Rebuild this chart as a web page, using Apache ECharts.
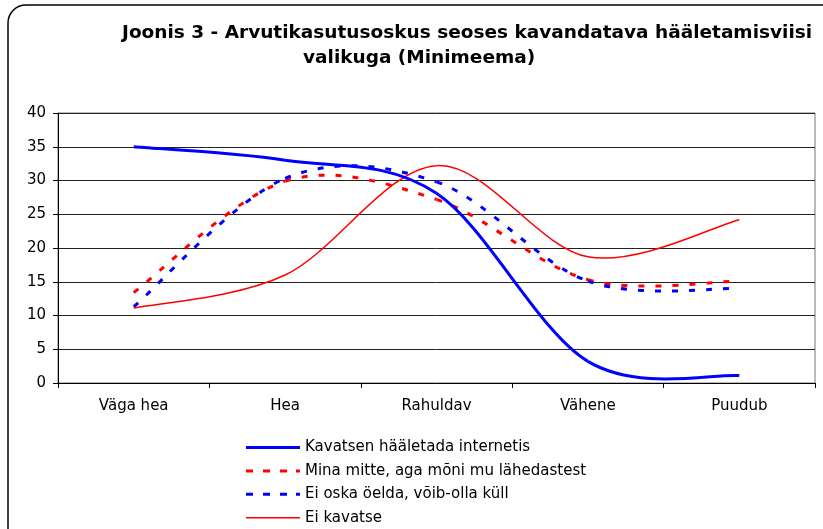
<!DOCTYPE html>
<html>
<head>
<meta charset="utf-8">
<script src="https://cdn.jsdelivr.net/npm/echarts@6/dist/echarts.min.js"></script>
<style>
  html, body { margin: 0; padding: 0; background: #fff; }
  #chart { width: 823px; height: 529px; }
</style>
</head>
<body>
<div id="chart"></div>
<script>
// kategooriad ja andmed (loetud pildilt)
var categories = ["Väga hea", "Hea", "Rahuldav", "Vähene", "Puudub"];
var yTicks = [0, 5, 10, 15, 20, 25, 30, 35, 40];

var internetis = [35.0, 33.0, 28.1, 3.2, 1.1];
var lahedased = [13.4, 29.9, 27.2, 15.3, 15.1];
var eiOska = [11.3, 30.3, 29.8, 15.1, 14.0];
var eiKavatse = [11.1, 16.0, 32.2, 18.7, 24.2];

var names = [
    "Kavatsen hääletada internetis",
    "Mina mitte, aga mõni mu lähedastest",
    "Ei oska öelda, võib-olla küll",
    "Ei kavatse"
];

var font = "DejaVu Sans";
var myChart = echarts.init(document.getElementById("chart"));

// Exceli moodi silutud joon (Catmull-Rom), iga lõik eraldi bezierkõverana
function curveSeries(name, values, color, width, dash) {
    return {
        name: name,
        type: "custom",
        coordinateSystem: "cartesian2d",
        itemStyle: { color: color },
        encode: { x: 0, y: 1 },
        data: values.map(function (v, i) { return [i, v]; }),
        renderItem: function (params, api) {
            var i = params.dataIndex;
            var n = values.length;
            if (i >= n - 1) return null;
            var p0 = api.coord([Math.max(i - 1, 0), values[Math.max(i - 1, 0)]]);
            var p1 = api.coord([i, values[i]]);
            var p2 = api.coord([i + 1, values[i + 1]]);
            var p3 = api.coord([Math.min(i + 2, n - 1), values[Math.min(i + 2, n - 1)]]);
            return {
                type: "bezierCurve",
                shape: {
                    x1: p1[0], y1: p1[1],
                    x2: p2[0], y2: p2[1],
                    cpx1: p1[0] + (p2[0] - p0[0]) / 6,
                    cpy1: p1[1] + (p2[1] - p0[1]) / 6,
                    cpx2: p2[0] - (p3[0] - p1[0]) / 6,
                    cpy2: p2[1] - (p3[1] - p1[1]) / 6
                },
                style: { stroke: color, lineWidth: width, lineDash: dash, fill: null }
            };
        }
    };
}

var solidIcon = "path://M0,0h54v3h-54z";
var dashIcon = "path://M0,0h7v3h-7zM17,0h7v3h-7zM34,0h7v3h-7zM50,0h4v3h-4z";
var thinIcon = "path://M0,0h54v1.5h-54z";

var option = {
    backgroundColor: "#fff",
    animation: false,
    title: [
        {
            text: "Joonis 3 - Arvutikasutusoskus seoses kavandatava hääletamisviisi",
            left: 117, top: 19,
            textStyle: { fontFamily: font, fontWeight: "bold", fontSize: 18.5, color: "#000" }
        },
        {
            text: "valikuga (Minimeema)",
            left: 298, top: 44,
            textStyle: { fontFamily: font, fontWeight: "bold", fontSize: 18.5, color: "#000" }
        }
    ],
    graphic: [{
        type: "rect",
        shape: { x: 8, y: 5, width: 840, height: 560, r: 18 },
        style: { fill: "none", stroke: "#000", lineWidth: 1.5 },
        silent: true
    }],
    grid: { left: 58, right: 8, top: 113, bottom: 146, show: true, borderColor: "#777", borderWidth: 1 },
    legend: {
        orient: "vertical",
        left: 246, top: 440,
        padding: 0,
        itemWidth: 54, itemHeight: 3, itemGap: 8.4,
        textStyle: { fontFamily: font, fontSize: 15, lineHeight: 14, color: "#000" },
        data: [
            { name: names[0], icon: solidIcon },
            { name: names[1], icon: dashIcon },
            { name: names[2], icon: dashIcon },
            { name: names[3], icon: thinIcon }
        ]
    },
    xAxis: {
        type: "category",
        data: categories,
        boundaryGap: true,
        axisLine: { lineStyle: { color: "#000", width: 1 } },
        axisTick: { show: true, length: 5, lineStyle: { color: "#000" } },
        axisLabel: { fontFamily: font, fontSize: 15, color: "#000", margin: 16 }
    },
    yAxis: {
        type: "value",
        min: yTicks[0], max: yTicks[yTicks.length - 1], interval: 5,
        axisLine: { show: true, lineStyle: { color: "#000" } },
        axisTick: { show: true, length: 5, lineStyle: { color: "#000" } },
        axisLabel: { fontFamily: font, fontSize: 15, color: "#000", margin: 12 },
        splitLine: { lineStyle: { color: "#222", width: 1 } }
    },
    series: [
        curveSeries(names[3], eiKavatse, "#ff0000", 1.5, null),
        curveSeries(names[1], lahedased, "#ff0000", 3, [6, 11]),
        curveSeries(names[2], eiOska, "#0000ff", 3, [6, 11]),
        curveSeries(names[0], internetis, "#0000ff", 3, null)
    ]
};
myChart.setOption(option);
</script>
</body>
</html>
